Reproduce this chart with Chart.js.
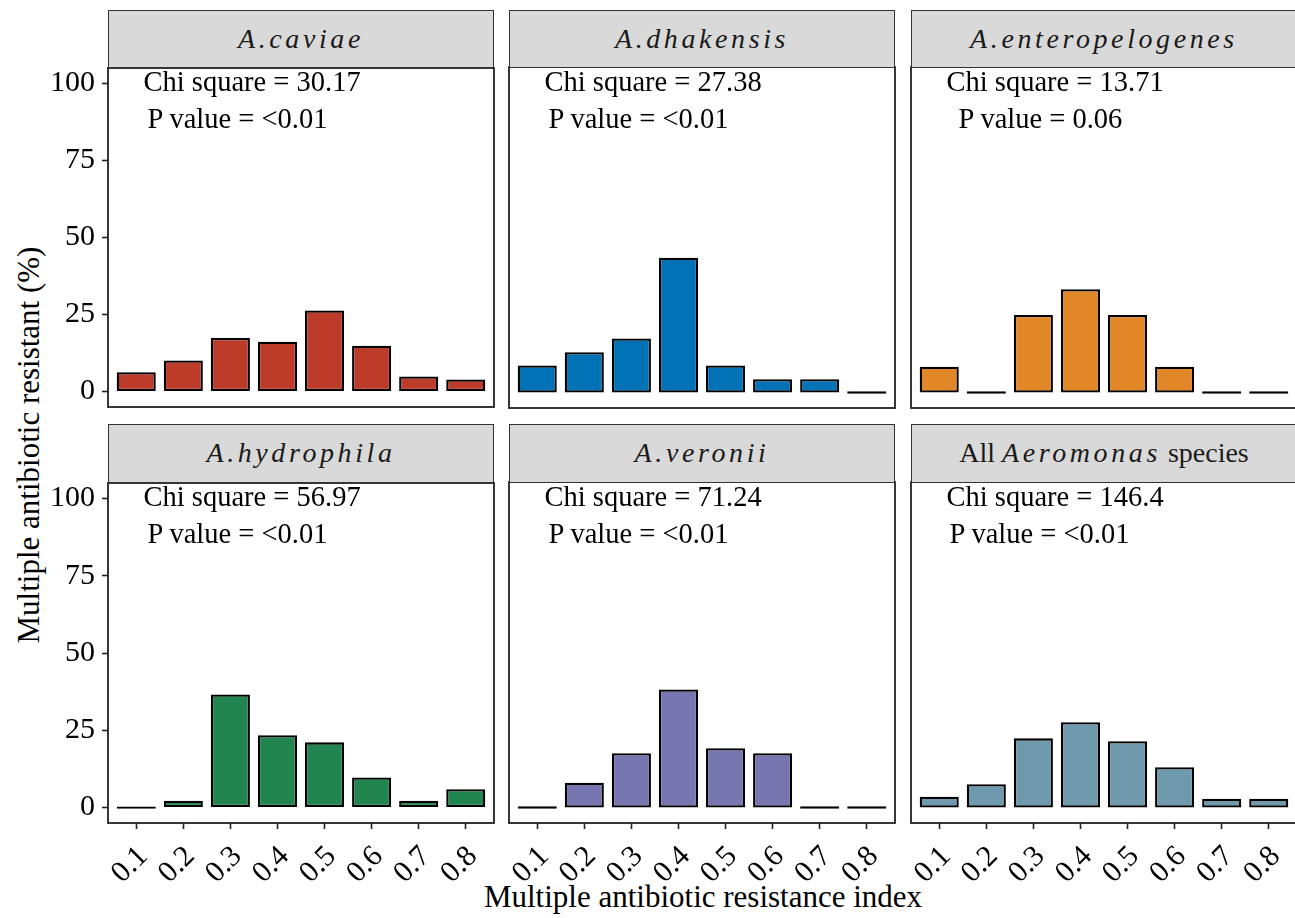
<!DOCTYPE html>
<html><head><meta charset="utf-8">
<script src="https://cdn.jsdelivr.net/npm/chart.js@4.4.1/dist/chart.umd.min.js"></script>
<style>
html,body{margin:0;padding:0;background:#fff;}
body{width:1295px;height:918px;overflow:hidden;position:relative;font-family:'Liberation Serif','Times New Roman',serif;color:#000;}
.strip{position:absolute;background:#d9d9d9;border:1.5px solid #333;box-sizing:border-box;text-align:center;font-size:28px;line-height:52px;padding-top:2px;color:#1a1a1a;white-space:nowrap;z-index:2;}
.sp{font-style:italic;letter-spacing:3.6px;}
.ann{position:absolute;font-size:28.5px;line-height:1;white-space:pre;color:#000;z-index:2;}
.cv{position:absolute;z-index:1;}
.title{position:absolute;font-size:31px;line-height:1;white-space:nowrap;color:#000;}
</style></head><body>
<div id="root"></div>
<script>
// ---- data ----
const categories = ['0.1','0.2','0.3','0.4','0.5','0.6','0.7','0.8'];
const caviae          = [6.3, 10.1, 17.4, 16.2, 26.3, 14.9, 4.9, 3.9];
const dhakensis       = [8.7, 13.0, 17.4, 43.5, 8.7, 4.3, 4.3, 0];
const enteropelogenes = [8.3, 0, 25.0, 33.3, 25.0, 8.3, 0, 0];
const hydrophila      = [0, 2.2, 36.6, 23.4, 21.1, 9.7, 2.2, 5.9];
const veronii         = [0, 8.0, 17.5, 38.1, 19.1, 17.5, 0, 0];
const allSpecies      = [3.5, 7.5, 22.3, 27.5, 21.4, 13.0, 2.8, 2.8];
const chiSquare = ['30.17','27.38','13.71','56.97','71.24','146.4'];
const pValues   = ['<0.01','<0.01','0.06','<0.01','<0.01','<0.01'];
const yTicks = [0, 25, 50, 75, 100];
const panelNames = ['A.caviae','A.dhakensis','A.enteropelogenes','A.hydrophila','A.veronii','Aeromonas'];
const seriesList = [caviae, dhakensis, enteropelogenes, hydrophila, veronii, allSpecies];
const colors = ['#BC3C29','#0072B5','#E18727','#20854E','#7876B1','#6F99AD'];

// ---- layout ----
const plotLefts = [108, 509, 911];
const plotTops = [67, 482];
const plotW = 386, plotH = 341;
const stripTops = [10, 424];
const pOffsets = [4, 4, 12, 4, 4, 3];
const FONT = "'Liberation Serif','Times New Roman',serif";
const PAD = 24;

const root = document.getElementById('root');

const borderPlugin = {
  id: 'panelBorder',
  afterDraw(chart) {
    const a = chart.chartArea, ctx = chart.ctx;
    ctx.save();
    ctx.strokeStyle = '#222';
    ctx.lineWidth = 1.8;
    ctx.strokeRect(a.left, a.top, a.right - a.left, a.bottom - a.top);
    ctx.restore();
  }
};

seriesList.forEach((vals, i) => {
  const c = i % 3, r = Math.floor(i / 3);
  const padL = c === 0 ? 0 : PAD, yW = c === 0 ? 108 : 0, padT = PAD, padR = PAD;
  const padB = r === 0 ? PAD : 0, xH = r === 1 ? 85 : 0;
  const left = plotLefts[c] - padL - yW, top = plotTops[r] - padT;
  const w = padL + yW + plotW + padR, h = padT + plotH + padB + xH;

  const cv = document.createElement('canvas');
  cv.className = 'cv';
  cv.width = w; cv.height = h;
  cv.style.left = left + 'px'; cv.style.top = top + 'px';
  cv.style.width = w + 'px'; cv.style.height = h + 'px';
  root.appendChild(cv);

  // strip
  const st = document.createElement('div');
  st.className = 'strip';
  st.style.left = plotLefts[c] + 'px';
  st.style.top = stripTops[r] + 'px';
  st.style.width = plotW + 'px';
  st.style.height = (plotTops[r] - stripTops[r] + 1) + 'px';
  if (i === 5) {
    st.innerHTML = 'All <span class="sp">' + panelNames[i] + '</span> species';
  } else {
    st.innerHTML = '<span class="sp">' + panelNames[i] + '</span>';
  }
  root.appendChild(st);

  // annotation
  const a1 = document.createElement('div');
  a1.className = 'ann';
  a1.textContent = 'Chi square = ' + chiSquare[i];
  a1.style.left = (plotLefts[c] + 35.5) + 'px';
  a1.style.top = (plotTops[r] + 1 + (r === 1 ? -0.5 : 0)) + 'px';
  root.appendChild(a1);
  const a2 = document.createElement('div');
  a2.className = 'ann';
  a2.textContent = 'P value = ' + pValues[i];
  a2.style.left = (plotLefts[c] + 35.5 + pOffsets[i]) + 'px';
  a2.style.top = (plotTops[r] + 38) + 'px';
  root.appendChild(a2);

  new Chart(cv, {
    type: 'bar',
    data: {
      datasets: [{
        data: categories.map((cat, k) => ({ x: parseFloat(cat), y: vals[k] })),
        backgroundColor: colors[i],
        borderColor: '#000',
        borderWidth: 2.3,
        borderSkipped: false,
        minBarLength: 2.3,
        barPercentage: 0.83,
        categoryPercentage: 1.0
      }]
    },
    options: {
      responsive: false,
      animation: false,
      devicePixelRatio: 1,
      layout: { padding: { left: padL, top: padT, right: padR, bottom: padB } },
      plugins: { legend: { display: false }, tooltip: { enabled: false } },
      scales: {
        x: {
          type: 'linear',
          min: 0.04, max: 0.86,
          offset: false,
          display: r === 1,
          afterBuildTicks(scale) { scale.ticks = categories.map(v => ({ value: parseFloat(v) })); },
          afterFit(scale) { scale.height = xH; },
          border: { display: false },
          grid: { offset: false, drawOnChartArea: false, drawTicks: true, tickLength: 6, tickColor: '#222', tickWidth: 1.6 },
          ticks: {
            autoSkip: false, minRotation: 45, maxRotation: 45, padding: 10, labelOffset: 7,
            color: '#000', font: { family: FONT, size: 30 },
            callback: (v, idx) => categories[idx]
          }
        },
        y: {
          type: 'linear',
          min: -5, max: 105,
          display: c === 0,
          afterBuildTicks(scale) { scale.ticks = yTicks.map(v => ({ value: v })); },
          afterFit(scale) { scale.width = yW; },
          border: { display: false },
          grid: { drawOnChartArea: false, drawTicks: true, tickLength: 6, tickColor: '#222', tickWidth: 1.6 },
          ticks: { padding: 7, color: '#000', font: { family: FONT, size: 30 } }
        }
      }
    },
    plugins: [borderPlugin]
  });
});

// axis titles
const xt = document.createElement('div');
xt.className = 'title';
xt.textContent = 'Multiple antibiotic resistance index';
xt.style.left = '303px'; xt.style.width = '800px'; xt.style.textAlign = 'center';
xt.style.top = '881px';
root.appendChild(xt);

const yt = document.createElement('div');
yt.className = 'title';
yt.textContent = 'Multiple antibiotic resistant (%)';
yt.style.left = '28px'; yt.style.top = '445px';
yt.style.transform = 'translate(-50%,-50%) rotate(-90deg)';
root.appendChild(yt);
</script>
</body></html>
